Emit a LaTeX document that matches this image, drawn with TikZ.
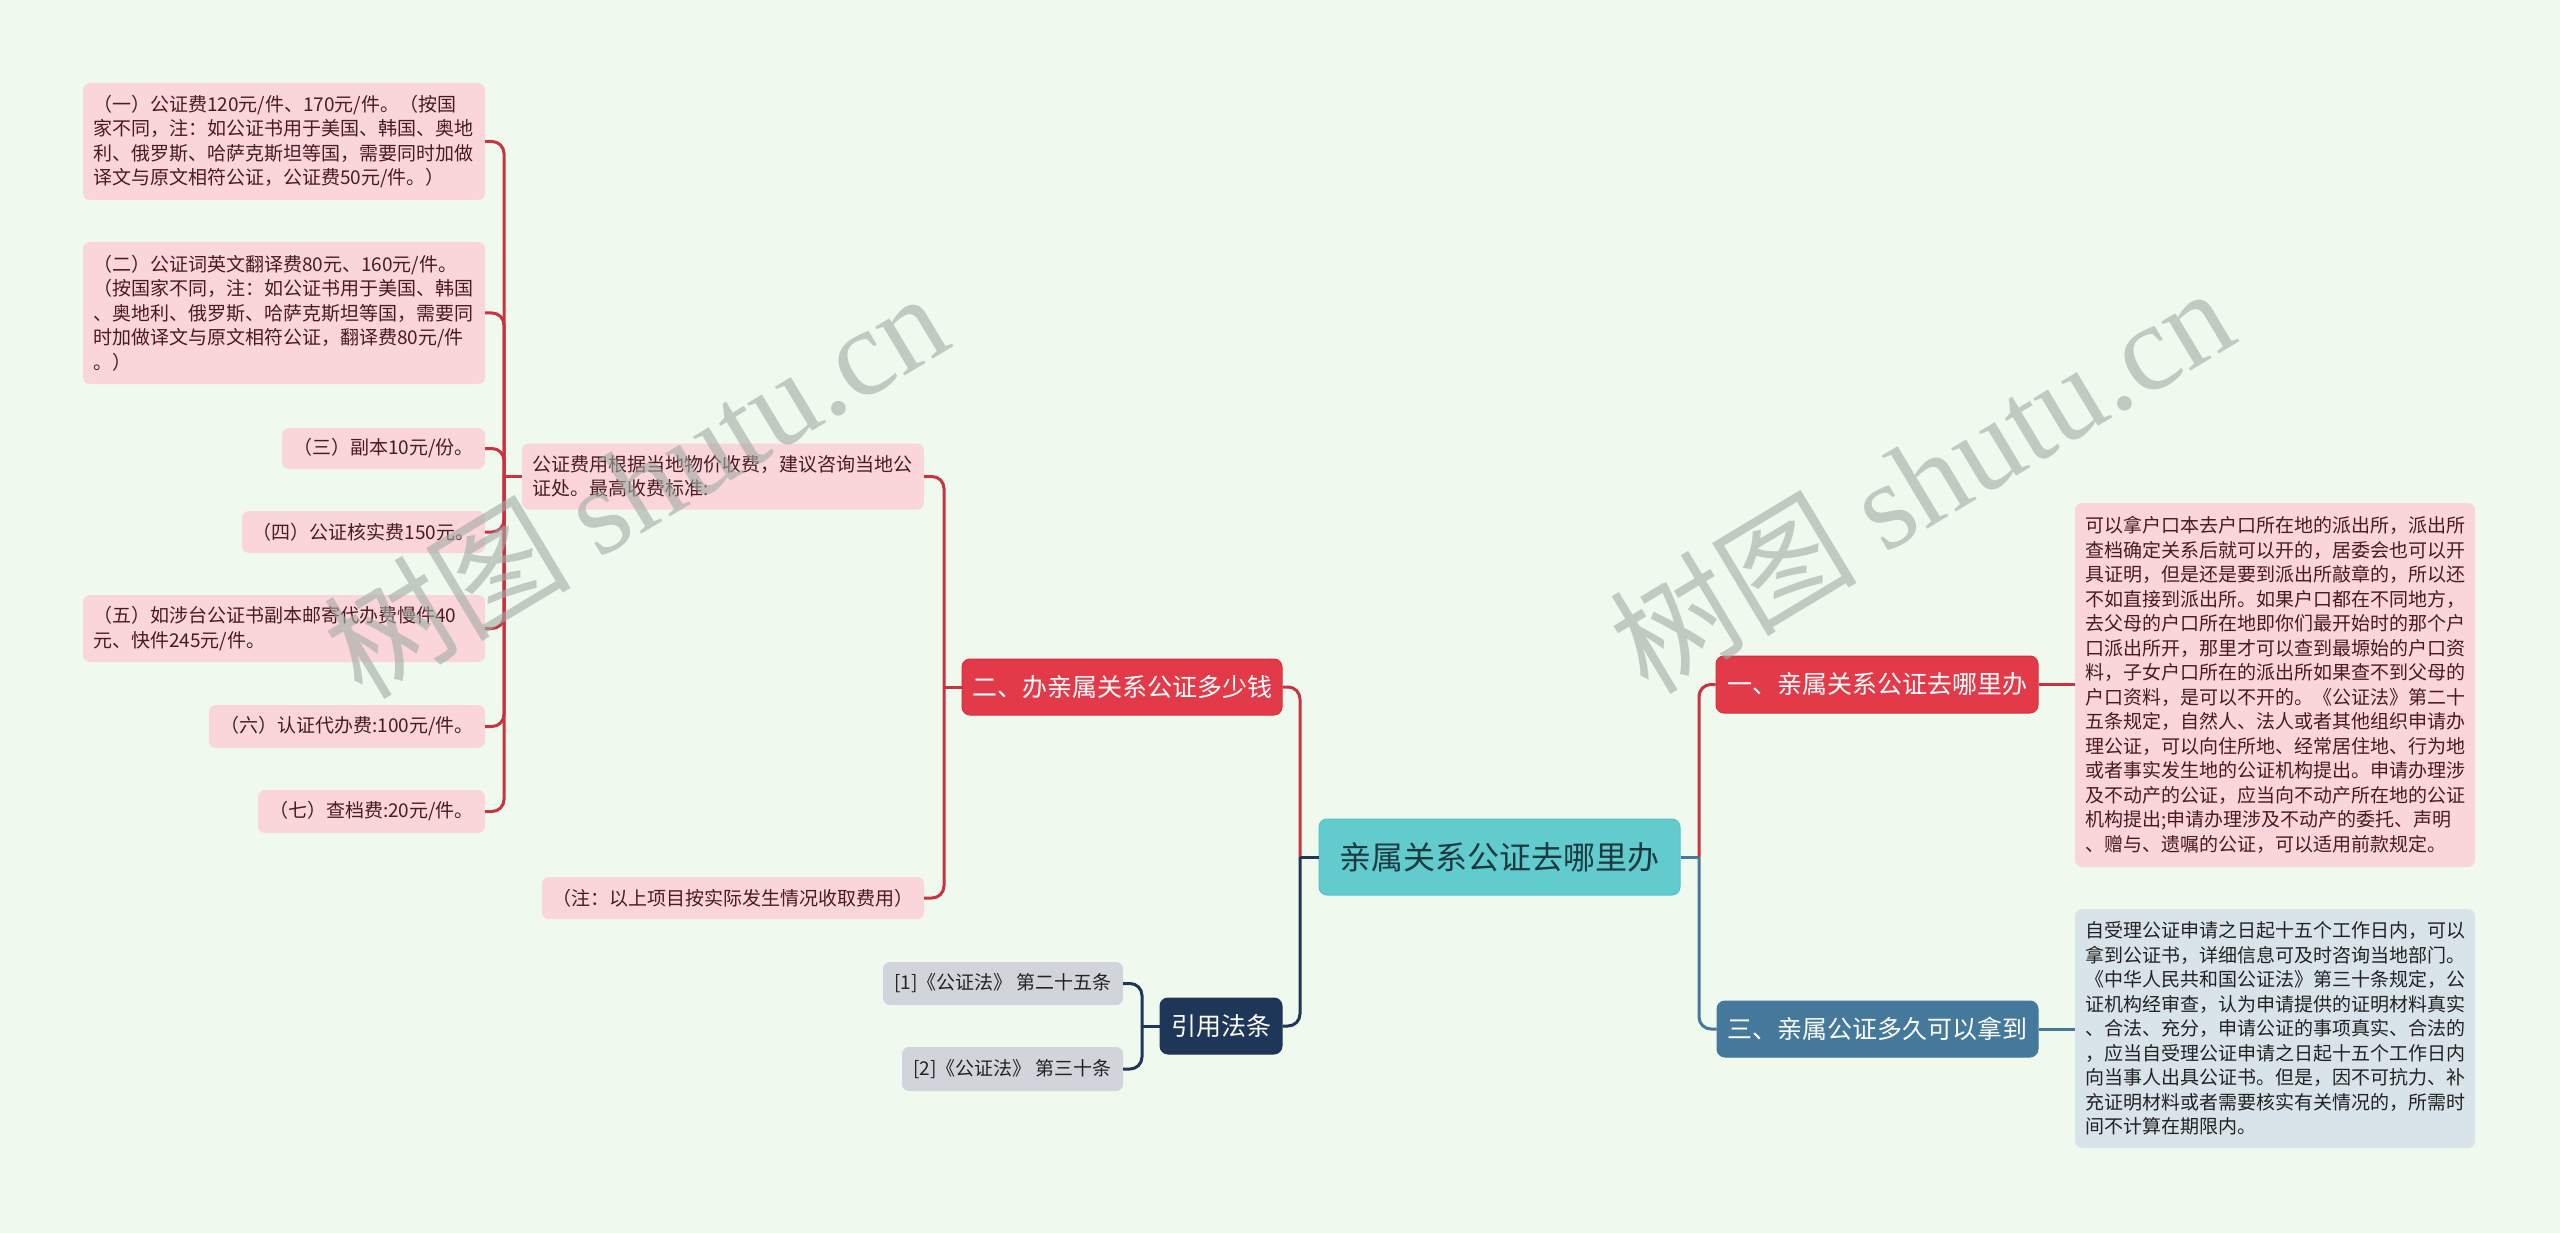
\documentclass[tikz,border=0pt]{standalone}
\usepackage{fontspec}
\setmainfont{Noto Sans CJK SC}
\newfontfamily\wmserif{Liberation Serif}
\definecolor{bgc}{HTML}{F0F9EE}
\definecolor{leafpink}{HTML}{FAD6DA}
\definecolor{leaftext}{HTML}{4A1A20}
\definecolor{redfill}{HTML}{E23A48}
\definecolor{redborder}{HTML}{D23240}
\definecolor{redline}{HTML}{C9323F}
\definecolor{tealfill}{HTML}{62CBCD}
\definecolor{tealborder}{HTML}{58C0C2}
\definecolor{tealtext}{HTML}{1B3A40}
\definecolor{bluefill}{HTML}{45799C}
\definecolor{blueline}{HTML}{45799C}
\definecolor{blueleaf}{HTML}{D9E3EA}
\definecolor{navyfill}{HTML}{1E3658}
\definecolor{refgray}{HTML}{D1D5DB}
\definecolor{darktext}{HTML}{222222}
\definecolor{wmgray}{RGB}{160,172,164}
\begin{document}
\begin{tikzpicture}[x=1pt,y=-1pt,
  leaf/.style={fill=leafpink, rounded corners=7pt, text=leaftext, font=\fontsize{19pt}{24.5pt}\selectfont, inner xsep=10pt, inner ysep=0pt, align=left},
  pinkbox/.style={leaf},
  bluebox/.style={leaf, fill=blueleaf, text=darktext},
  refleaf/.style={leaf, fill=refgray, text=darktext},
  bred/.style={fill=redfill, draw=redborder, line width=1pt, rounded corners=8pt, text=white, font=\fontsize{25pt}{30pt}\selectfont, inner sep=0pt},
  bblue/.style={bred, fill=bluefill, draw=bluefill},
  bnavy/.style={bred, fill=navyfill, draw=navyfill},
  rootbox/.style={bred, fill=tealfill, draw=tealborder, text=tealtext, font=\fontsize{32pt}{38pt}\selectfont},
  lred/.style={draw=redline, line width=3pt, rounded corners=12pt},
  lblue/.style={lred, draw=blueline},
  lnavy/.style={lred, draw=navyfill},
  wm/.style={text=wmgray, opacity=0.6, font=\fontsize{124pt}{124pt}\selectfont, inner sep=0pt}
]
\fill[bgc] (0,0) rectangle (2560,1233);
\useasboundingbox (0,0) rectangle (2560,1233);

% leaves of branch 2
\node[leaf, text width=382pt, minimum height=117pt] (l1) at (284,141.5) {（一）公证费120元/件、170元/件。（按国\\家不同，注：如公证书用于美国、韩国、奥地\\利、俄罗斯、哈萨克斯坦等国，需要同时加做\\译文与原文相符公证，公证费50元/件。）};
\node[leaf, text width=382pt, minimum height=142pt] (l2) at (284,313) {（二）公证词英文翻译费80元、160元/件。\\（按国家不同，注：如公证书用于美国、韩国\\、奥地利、俄罗斯、哈萨克斯坦等国，需要同\\时加做译文与原文相符公证，翻译费80元/件\\。）};
\node[leaf, minimum width=203pt, minimum height=41pt] (l3) at (383.5,448.5) {（三）副本10元/份。};
\node[leaf, minimum width=243pt, minimum height=42pt] (l4) at (363.5,532) {（四）公证核实费150元。};
\node[leaf, text width=382pt, minimum height=67pt] (l5) at (284,628.5) {（五）如涉台公证书副本邮寄代办费慢件40\\元、快件245元/件。};
\node[leaf, minimum width=276pt, minimum height=43pt] (l6) at (347,726.5) {（六）认证代办费:100元/件。};
\node[leaf, minimum width=227pt, minimum height=43pt] (l7) at (371.5,811.5) {（七）查档费:20元/件。};
\node[leaf, text width=382pt, minimum height=66pt] (gz) at (723,476.5) {公证费用根据当地物价收费，建议咨询当地公\\证处。最高收费标准:};
\node[leaf, minimum width=382pt, minimum height=42pt] (note) at (733,898) {（注：以上项目按实际发生情况收取费用）};

% main branches
\node[rootbox, minimum width=361pt, minimum height=76pt] (main) at (1499.5,857) {亲属关系公证去哪里办};
\node[bred, minimum width=320pt, minimum height=56pt] (b2) at (1122,687) {二、办亲属关系公证多少钱};
\node[bred, minimum width=322pt, minimum height=57pt] (b1) at (1877,684.5) {一、亲属关系公证去哪里办};
\node[bblue, minimum width=321pt, minimum height=56pt] (b3) at (1877.5,1029) {三、亲属公证多久可以拿到};
\node[bnavy, minimum width=122pt, minimum height=56pt] (yy) at (1221,1026) {引用法条};

% refs
\node[refleaf, minimum width=240pt, minimum height=43pt] (r1) at (1003,983.5) {[1]《公证法》 第二十五条};
\node[refleaf, minimum width=221pt, minimum height=44pt] (r2) at (1012.5,1069) {[2]《公证法》 第三十条};

% right leaves
\node[pinkbox, text width=380pt, minimum height=364pt] (p1) at (2275,685) {可以拿户口本去户口所在地的派出所，派出所\\查档确定关系后就可以开的，居委会也可以开\\具证明，但是还是要到派出所敲章的，所以还\\不如直接到派出所。如果户口都在不同地方，\\去父母的户口所在地即你们最开始时的那个户\\口派出所开，那里才可以查到最塬始的户口资\\料，子女户口所在的派出所如果查不到父母的\\户口资料，是可以不开的。《公证法》第二十\\五条规定，自然人、法人或者其他组织申请办\\理公证，可以向住所地、经常居住地、行为地\\或者事实发生地的公证机构提出。申请办理涉\\及不动产的公证，应当向不动产所在地的公证\\机构提出;申请办理涉及不动产的委托、声明\\、赠与、遗嘱的公证，可以适用前款规定。};
\node[bluebox, text width=380pt, minimum height=239pt] (p3) at (2275,1028.5) {自受理公证申请之日起十五个工作日内，可以\\拿到公证书，详细信息可及时咨询当地部门。\\《中华人民共和国公证法》第三十条规定，公\\证机构经审查，认为申请提供的证明材料真实\\、合法、充分，申请公证的事项真实、合法的\\，应当自受理公证申请之日起十五个工作日内\\向当事人出具公证书。但是，因不可抗力、补\\充证明材料或者需要核实有关情况的，所需时\\间不计算在期限内。};

% junctions
\coordinate (jL) at (1300,857);
\coordinate (jR) at (1699,857);
\coordinate (jB) at (944,687);
\coordinate (jA) at (504,476.5);
\coordinate (jC) at (1142,1026);

% connectors
\draw[lred] (jL) |- (b2.east);
\draw[lnavy] (jL) |- (yy.east);
\draw[lnavy] (main.west) -- (jL);
\draw[lred] (jR) |- (b1.west);
\draw[lblue] (jR) |- (b3.west);
\draw[lblue] (main.east) -- (jR);
\draw[lred] (b2.west) -- (jB);
\draw[lred] (jB) |- (gz.east);
\draw[lred] (jB) |- (note.east);
\draw[lred] (gz.west) -- (jA);
\foreach \n in {l1,l2,l3,l4,l5,l6,l7} \draw[lred] (jA) |- (\n.east);
\draw[lnavy] (yy.west) -- (jC);
\draw[lnavy] (jC) |- (r1.east);
\draw[lnavy] (jC) |- (r2.east);
\draw[lred] (b1.east) -- (b1.east -| p1.west);
\draw[lblue] (b3.east) -- (b3.east -| p3.west);

% watermarks
\node[wm, rotate=31, anchor=base west] (wm1) at (362,702) {树图 {\wmserif shutu.cn}};
\node[wm, rotate=31, anchor=base west] (wm2) at (1648,697) {树图 {\wmserif shutu.cn}};
\end{tikzpicture}
\end{document}
